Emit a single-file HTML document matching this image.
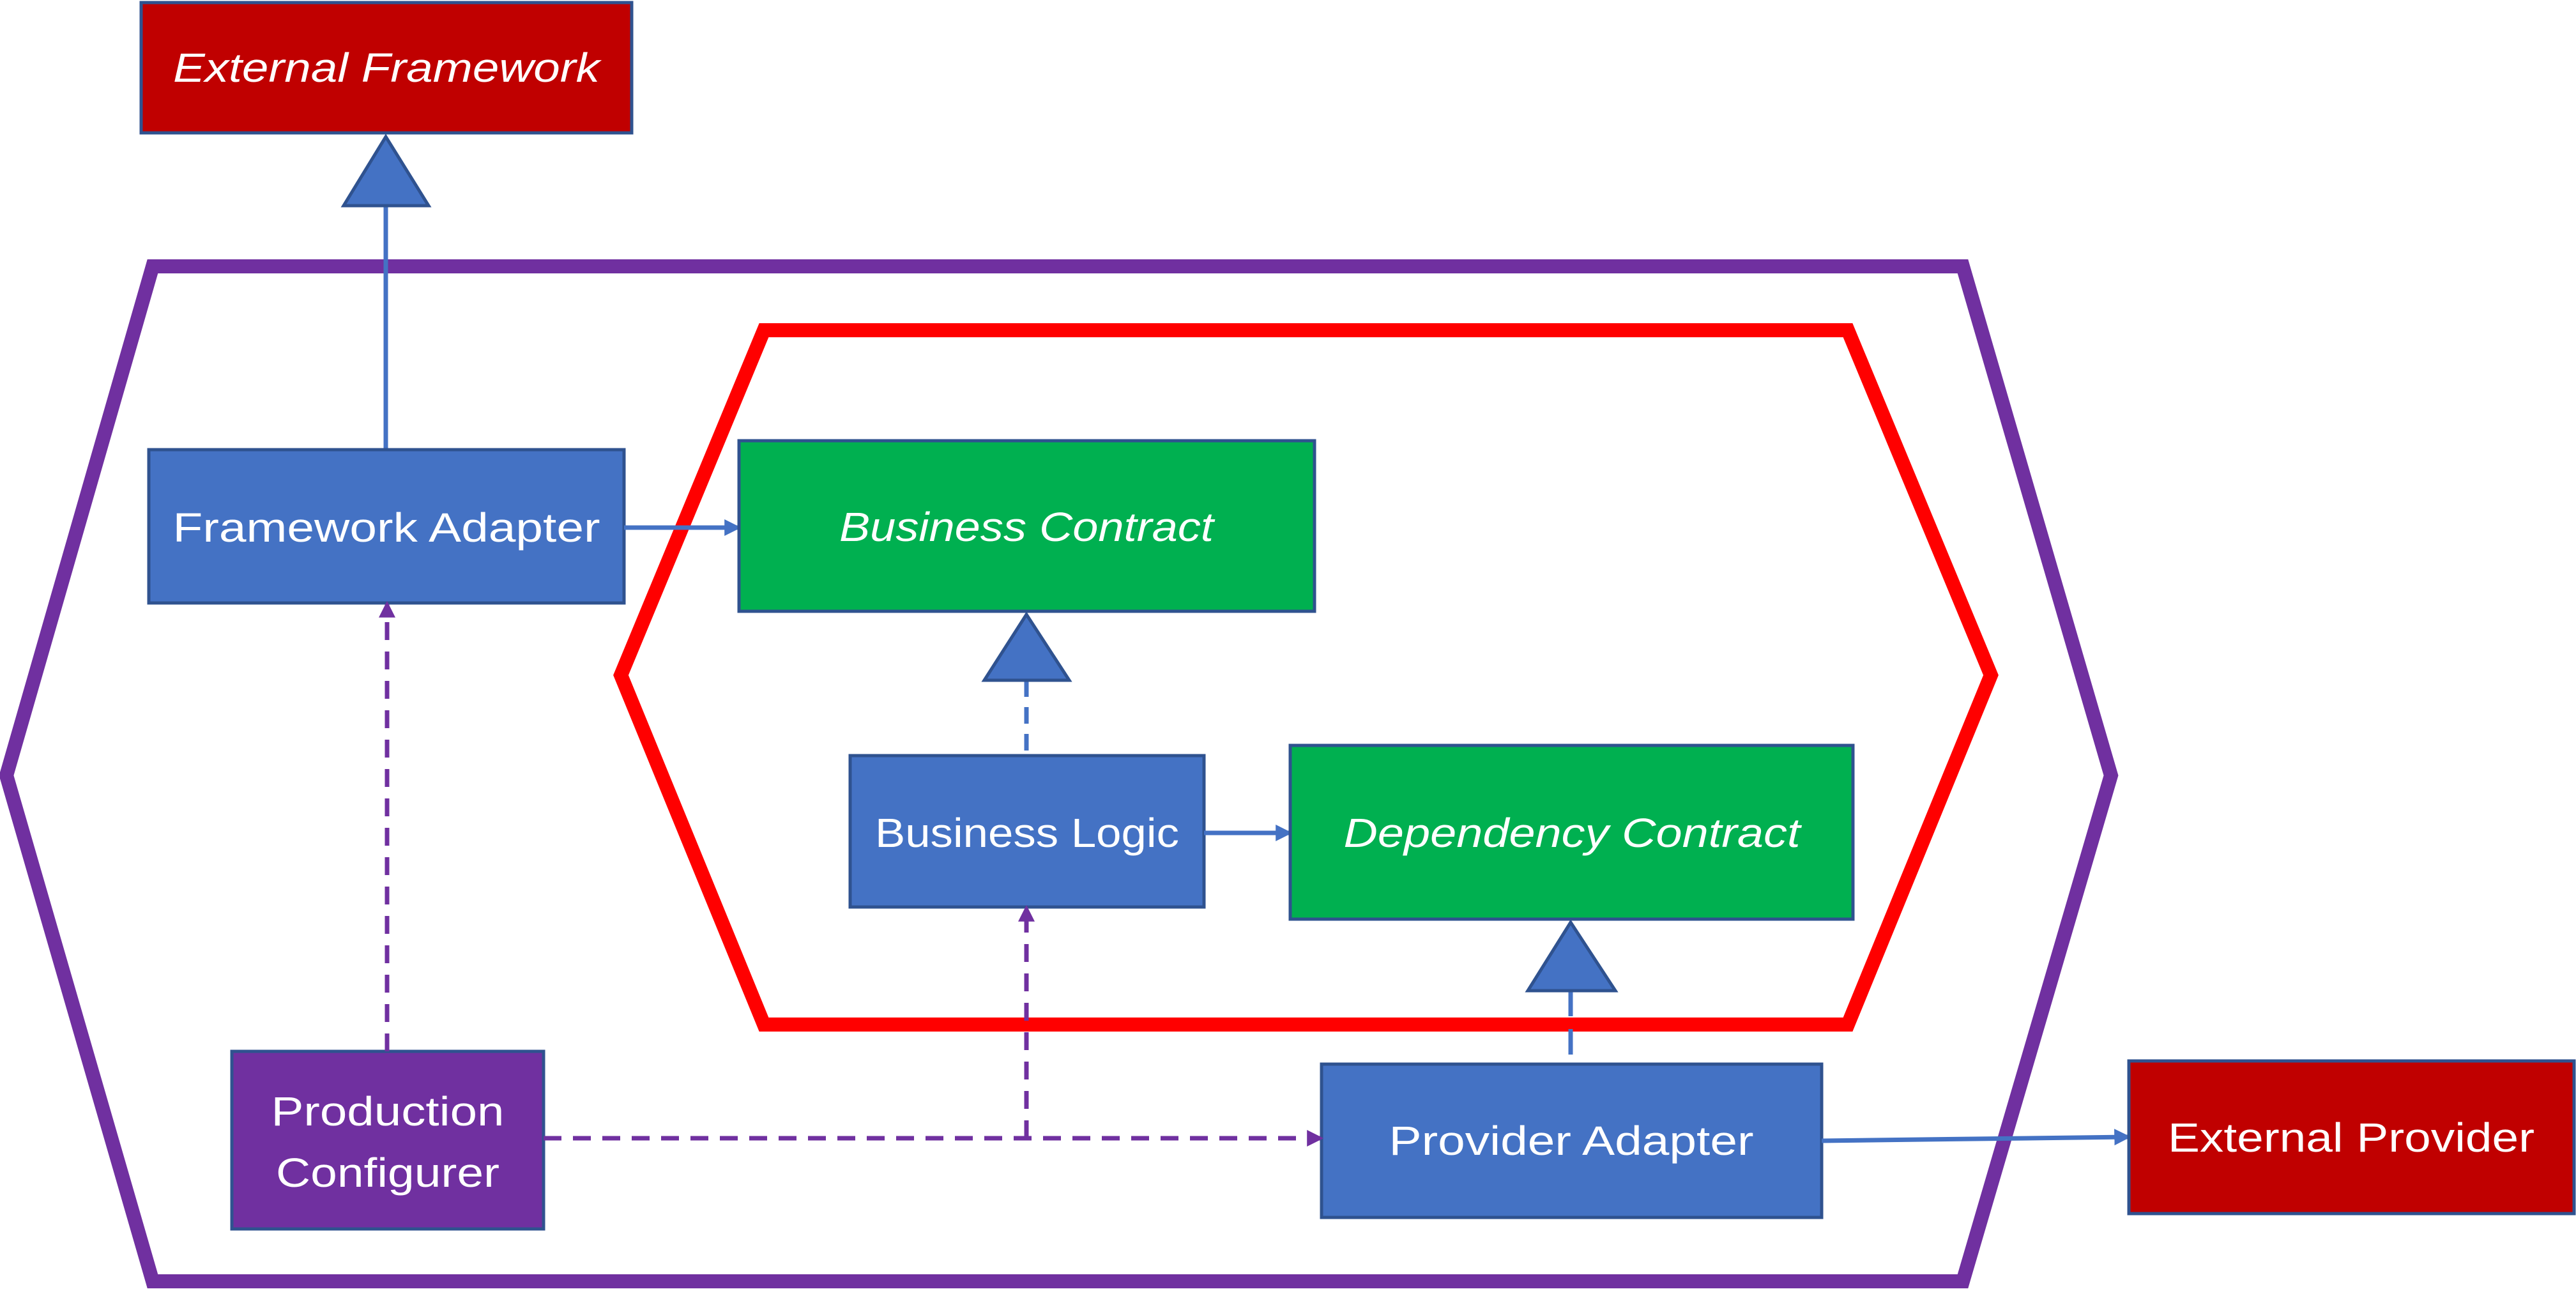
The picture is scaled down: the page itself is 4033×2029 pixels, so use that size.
<!DOCTYPE html>
<html><head><meta charset="utf-8"><style>
html,body{margin:0;padding:0;background:#fff;}
svg{display:block;}
text{font-family:"Liberation Sans",sans-serif;fill:#fff;font-size:64px;}
</style></head><body>
<svg width="4033" height="2029" viewBox="0 0 4033 2029" xmlns="http://www.w3.org/2000/svg">
<defs>
<marker id="ab" markerWidth="10" markerHeight="10" refX="8" refY="5" orient="auto" markerUnits="userSpaceOnUse" viewBox="0 0 10 10"><path d="M0,0 L10,5 L0,10 z" fill="#4472C4"/></marker>
<marker id="ap" viewBox="0 0 10 10" refX="8" refY="5" markerWidth="26" markerHeight="30" orient="auto" markerUnits="userSpaceOnUse"><path d="M0,0 L10,5 L0,10 z" fill="#7030A0"/></marker>
<marker id="ab2" viewBox="0 0 10 10" refX="8" refY="5" markerWidth="26" markerHeight="30" orient="auto" markerUnits="userSpaceOnUse"><path d="M0,0 L10,5 L0,10 z" fill="#4472C4"/></marker>
</defs>

<!-- hexagons -->
<polygon points="239,417 3073,417 3305,1214 3073,2006 239,2006 10,1214" fill="none" stroke="#7030A0" stroke-width="22"/>
<polygon points="1196,517 2893,517 3117,1057 2893,1604 1196,1604 972,1057" fill="none" stroke="#FF0000" stroke-width="22"/>

<!-- External Framework -->
<rect x="221" y="4" width="768" height="204" fill="#C00000" stroke="#2F528F" stroke-width="5"/>
<text x="605" y="128" text-anchor="middle" font-style="italic" textLength="668" lengthAdjust="spacingAndGlyphs">External Framework</text>

<!-- generalization FA -> EF -->
<line x1="604" y1="322" x2="604" y2="704" stroke="#4472C4" stroke-width="7"/>
<polygon points="604,214 538,322 671,322" fill="#4472C4" stroke="#2F528F" stroke-width="5"/>

<!-- Framework Adapter -->
<rect x="233" y="704" width="744" height="240" fill="#4472C4" stroke="#2F528F" stroke-width="5"/>
<text x="605" y="848" text-anchor="middle" textLength="669" lengthAdjust="spacingAndGlyphs">Framework Adapter</text>

<!-- FA -> BC -->
<line x1="977" y1="826" x2="1155" y2="826" stroke="#4472C4" stroke-width="7" marker-end="url(#ab2)"/>

<!-- Business Contract -->
<rect x="1157" y="690" width="901" height="267" fill="#00B050" stroke="#2F528F" stroke-width="5"/>
<text x="1607" y="847" text-anchor="middle" font-style="italic" textLength="586" lengthAdjust="spacingAndGlyphs">Business Contract</text>

<!-- BL -> BC realization -->
<line x1="1607" y1="1065" x2="1607" y2="1183" stroke="#4472C4" stroke-width="7" stroke-dasharray="26,16"/>
<polygon points="1607,962 1541,1065 1674,1065" fill="#4472C4" stroke="#2F528F" stroke-width="5"/>

<!-- Business Logic -->
<rect x="1331" y="1183" width="554" height="237" fill="#4472C4" stroke="#2F528F" stroke-width="5"/>
<text x="1608" y="1326" text-anchor="middle" textLength="476" lengthAdjust="spacingAndGlyphs">Business Logic</text>

<!-- BL -> DC -->
<line x1="1885" y1="1304" x2="2018" y2="1304" stroke="#4472C4" stroke-width="7" marker-end="url(#ab2)"/>

<!-- Dependency Contract -->
<rect x="2020" y="1167" width="881" height="272" fill="#00B050" stroke="#2F528F" stroke-width="5"/>
<text x="2461" y="1326" text-anchor="middle" font-style="italic" textLength="715" lengthAdjust="spacingAndGlyphs">Dependency Contract</text>

<!-- PA -> DC realization -->
<line x1="2459" y1="1551" x2="2459" y2="1666" stroke="#4472C4" stroke-width="7" stroke-dasharray="40,20"/>
<polygon points="2459,1444 2392,1551 2529,1551" fill="#4472C4" stroke="#2F528F" stroke-width="5"/>

<!-- Provider Adapter -->
<rect x="2069" y="1666" width="783" height="240" fill="#4472C4" stroke="#2F528F" stroke-width="5"/>
<text x="2460" y="1808" text-anchor="middle" textLength="571" lengthAdjust="spacingAndGlyphs">Provider Adapter</text>

<!-- PA -> EP -->
<line x1="2852" y1="1786" x2="3331" y2="1780" stroke="#4472C4" stroke-width="7" marker-end="url(#ab2)"/>

<!-- External Provider -->
<rect x="3333" y="1661" width="697" height="239" fill="#C00000" stroke="#2F528F" stroke-width="5"/>
<text x="3681" y="1803" text-anchor="middle" textLength="574" lengthAdjust="spacingAndGlyphs">External Provider</text>

<!-- Production Configurer -->
<rect x="363" y="1646" width="488" height="278" fill="#7030A0" stroke="#2F528F" stroke-width="5"/>
<text x="607" y="1762" text-anchor="middle" textLength="365" lengthAdjust="spacingAndGlyphs">Production</text>
<text x="607" y="1858" text-anchor="middle" textLength="350" lengthAdjust="spacingAndGlyphs">Configurer</text>

<!-- dashed purple dependencies -->
<line x1="606" y1="1646" x2="606" y2="946" stroke="#7030A0" stroke-width="7" stroke-dasharray="28,18" marker-end="url(#ap)"/>
<line x1="851" y1="1782" x2="2067" y2="1782" stroke="#7030A0" stroke-width="7" stroke-dasharray="28,18" marker-end="url(#ap)"/>
<line x1="1607" y1="1782" x2="1607" y2="1422" stroke="#7030A0" stroke-width="7" stroke-dasharray="28,18" marker-end="url(#ap)"/>
</svg>
</body></html>
